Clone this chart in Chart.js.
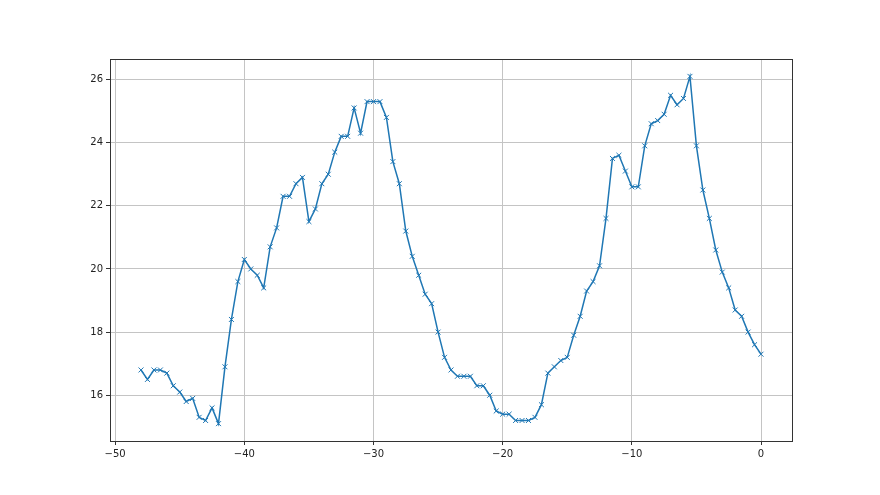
<!DOCTYPE html>
<html>
<head>
<meta charset="utf-8">
<script src="https://cdn.jsdelivr.net/npm/chart.js@4/dist/chart.umd.min.js"></script>
<style>
html,body{margin:0;padding:0;background:#fff;}
#wrap{width:880px;height:495px;position:relative;}
</style>
</head>
<body>
<div id="wrap"><canvas id="c" width="880" height="495"></canvas></div>
<script>
const xValues = [-48,-47.5,-47,-46.5,-46,-45.5,-45,-44.5,-44,-43.5,-43,-42.5,-42,-41.5,-41,-40.5,-40,-39.5,-39,-38.5,-38,-37.5,-37,-36.5,-36,-35.5,-35,-34.5,-34,-33.5,-33,-32.5,-32,-31.5,-31,-30.5,-30,-29.5,-29,-28.5,-28,-27.5,-27,-26.5,-26,-25.5,-25,-24.5,-24,-23.5,-23,-22.5,-22,-21.5,-21,-20.5,-20,-19.5,-19,-18.5,-18,-17.5,-17,-16.5,-16,-15.5,-15,-14.5,-14,-13.5,-13,-12.5,-12,-11.5,-11,-10.5,-10,-9.5,-9,-8.5,-8,-7.5,-7,-6.5,-6,-5.5,-5,-4.5,-4,-3.5,-3,-2.5,-2,-1.5,-1,-0.5,0];
const yValues = [16.8,16.5,16.8,16.8,16.7,16.3,16.1,15.8,15.9,15.3,15.2,15.6,15.1,16.9,18.4,19.6,20.3,20.0,19.8,19.4,20.7,21.3,22.3,22.3,22.7,22.9,21.5,21.9,22.7,23.0,23.7,24.2,24.2,25.1,24.3,25.3,25.3,25.3,24.8,23.4,22.7,21.2,20.4,19.8,19.2,18.9,18.0,17.2,16.8,16.6,16.6,16.6,16.3,16.3,16.0,15.5,15.4,15.4,15.2,15.2,15.2,15.3,15.7,16.7,16.9,17.1,17.2,17.9,18.5,19.3,19.6,20.1,21.6,23.5,23.6,23.1,22.6,22.6,23.9,24.6,24.7,24.9,25.5,25.2,25.4,26.1,23.9,22.5,21.6,20.6,19.9,19.4,18.7,18.5,18.0,17.6,17.3];
const xTicks = [-50,-40,-30,-20,-10,0];
const yTicks = [16,18,20,22,24,26];

const points = xValues.map((x,i)=>({x:x, y:yValues[i]}));
const fmt = v => (v<0 ? '\u2212' + Math.abs(v) : String(v));

const frame = {
  id:'frame',
  afterDraw(chart){
    const {ctx, chartArea:a} = chart;
    ctx.save();
    ctx.strokeStyle = '#333';
    ctx.lineWidth = 1;
    ctx.strokeRect(Math.round(a.left)+0.5, Math.round(a.top)+0.5, Math.round(a.right-a.left), Math.round(a.bottom-a.top));
    ctx.restore();
  }
};

new Chart(document.getElementById('c'), {
  type:'line',
  data:{datasets:[{
    data: points,
    borderColor:'#1f77b4',
    backgroundColor:'#1f77b4',
    borderWidth:1.5,
    pointStyle:'crossRot',
    pointRadius:3.5,
    pointBorderWidth:1,
    pointBorderColor:'#1f77b4',
    tension:0,
    fill:false
  }]},
  options:{
    responsive:false,
    animation:false,
    devicePixelRatio:1,
    layout:{padding:{left:60, right:88, top:59, bottom:24}},
    plugins:{legend:{display:false}, tooltip:{enabled:false}},
    scales:{
      x:{
        type:'linear',
        min:-50.4, max:2.4,
        afterBuildTicks: s => { s.ticks = xTicks.map(v=>({value:v})); },
        afterFit: s => { s.height = 30; },
        grid:{color:'#c4c4c4', lineWidth:1, tickColor:'#333', tickLength:4, drawOnChartArea:true},
        border:{display:false},
        ticks:{color:'#222', font:{family:'DejaVu Sans', size:10}, padding:3, maxRotation:0, callback: v => fmt(v)}
      },
      y:{
        type:'linear',
        min:14.55, max:26.65,
        afterBuildTicks: s => { s.ticks = yTicks.map(v=>({value:v})); },
        afterFit: s => { s.width = 50; },
        grid:{color:'#c4c4c4', lineWidth:1, tickColor:'#333', tickLength:4},
        border:{display:false},
        ticks:{color:'#222', font:{family:'DejaVu Sans', size:10}, padding:3, callback: v => fmt(v)}
      }
    }
  },
  plugins:[frame]
});
</script>
</body>
</html>
